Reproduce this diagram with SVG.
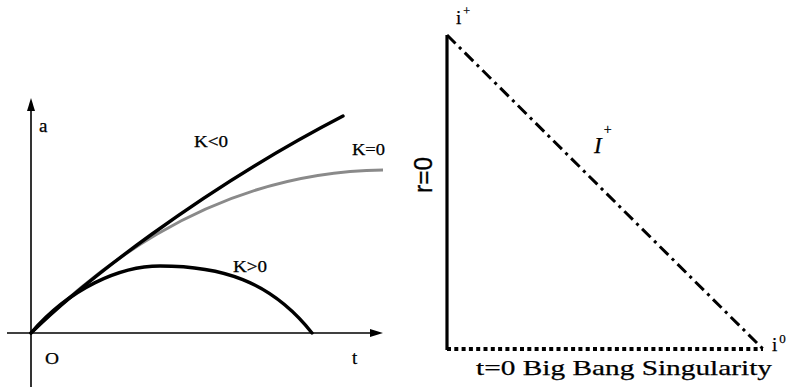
<svg xmlns="http://www.w3.org/2000/svg" width="793" height="391" viewBox="0 0 793 391">
<style>
.lbl{fill:#000;stroke:#000;stroke-width:0.25}
.axis{stroke:#000;stroke-width:1.6;fill:none}
.curve{stroke:#000;stroke-width:3.4;fill:none;stroke-linecap:round}
.gray{stroke:#8a8a8a;stroke-width:3;fill:none}
</style>
<rect width="793" height="391" fill="#fff"/>
<g id="plot">
  <g id="axes">
    <line class="axis" x1="31" y1="108" x2="31" y2="387"/>
    <polygon points="31,98 27,111 35,111" fill="#000"/>
    <line class="axis" x1="7" y1="333" x2="373" y2="333"/>
    <polygon points="383,333 370,329 370,337" fill="#000"/>
  </g>
  <g id="curves">
    <path class="gray" d="M31,333 C80,285 200,172 383,170"/>
    <path class="curve" d="M31,333 C80,285 200,190 343,116"/>
    <path class="curve" d="M31,333 C70,288 120,266 160,266 C220,266 270,280 312,333"/>
  </g>
  <g id="plot-labels" font-family="Liberation Serif, Times New Roman, serif">
    <text class="lbl" x="39" y="132" font-size="19">a</text>
    <text class="lbl" x="194" y="147" font-size="16" textLength="34" lengthAdjust="spacingAndGlyphs">K&lt;0</text>
    <text class="lbl" x="352" y="155" font-size="16" textLength="33" lengthAdjust="spacingAndGlyphs">K=0</text>
    <text class="lbl" x="233" y="272" font-size="16" textLength="34" lengthAdjust="spacingAndGlyphs">K&gt;0</text>
    <text class="lbl" x="45" y="364" font-size="17" textLength="14" lengthAdjust="spacingAndGlyphs">O</text>
    <text class="lbl" x="352" y="364" font-size="19">t</text>
  </g>
</g>
<g id="penrose" font-family="Liberation Serif, Times New Roman, serif">
  <line x1="447" y1="35" x2="447" y2="350" stroke="#000" stroke-width="3.2"/>
  <line x1="447" y1="35" x2="763" y2="349" stroke="#000" stroke-width="3" stroke-dasharray="12 5 3 5"/>
  <line x1="447" y1="349" x2="763" y2="349" stroke="#000" stroke-width="4" stroke-dasharray="4 3.3"/>
  <text class="lbl" x="456" y="24" font-size="19">i<tspan font-size="12" dx="2" dy="-9">+</tspan></text>
  <text class="lbl" x="772" y="351" font-size="19">i<tspan font-size="13" dx="2" dy="-8">0</tspan></text>
  <text class="lbl" x="594" y="153" font-size="23" font-style="italic">I<tspan font-size="14" dx="2" dy="-19" font-style="normal">+</tspan></text>
  <text x="432" y="193" font-family="Liberation Sans, Arial, sans-serif" font-size="26" stroke="#000" stroke-width="0.3" textLength="36" lengthAdjust="spacingAndGlyphs" transform="rotate(-90 432 193)">r=0</text>
  <text class="lbl" x="476" y="375" font-size="22" textLength="296" lengthAdjust="spacingAndGlyphs">t=0 Big Bang Singularity</text>
</g>
</svg>
